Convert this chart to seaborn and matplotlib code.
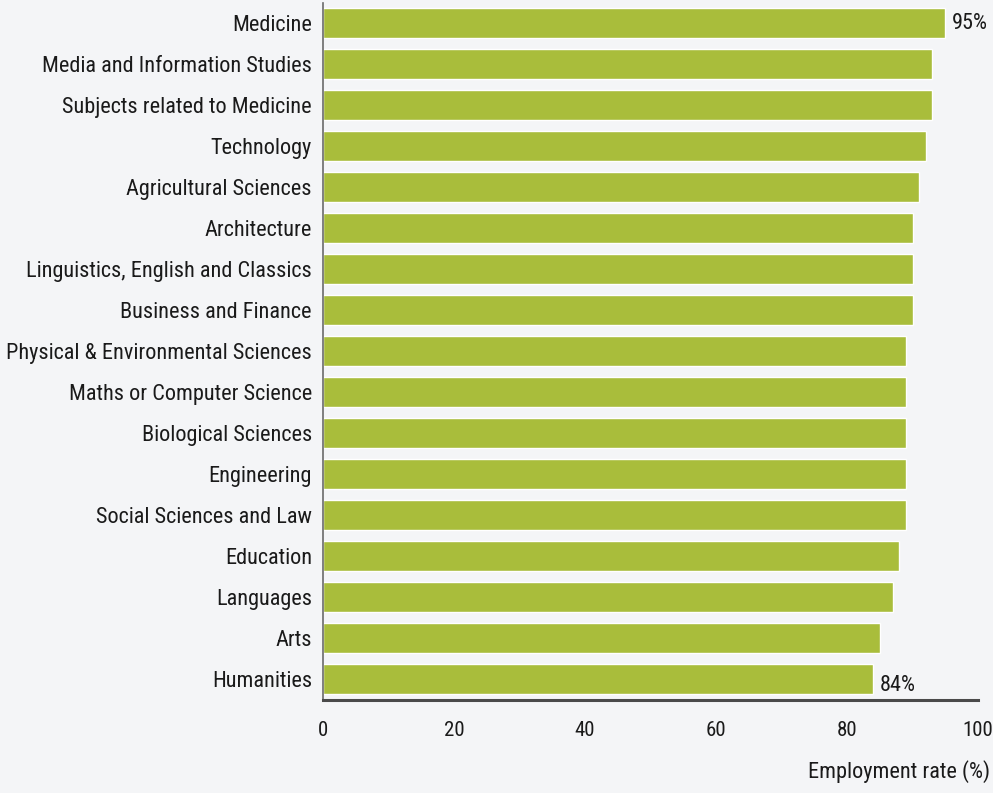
import matplotlib
matplotlib.use("Agg")
import matplotlib.pyplot as plt
import seaborn as sns
import pandas as pd

subjects = [
    "Medicine",
    "Media and Information Studies",
    "Subjects related to Medicine",
    "Technology",
    "Agricultural Sciences",
    "Architecture",
    "Linguistics, English and Classics",
    "Business and Finance",
    "Physical & Environmental Sciences",
    "Maths or Computer Science",
    "Biological Sciences",
    "Engineering",
    "Social Sciences and Law",
    "Education",
    "Languages",
    "Arts",
    "Humanities",
]
employment_rate = [95, 93, 93, 92, 91, 90, 90, 90, 89, 89, 89, 89, 89, 88, 87, 85, 84]
x_ticks = [0, 20, 40, 60, 80, 100]
value_labels = {"Medicine": "95%", "Humanities": "84%"}

sns.set_theme(style="white")
plt.rcParams["font.family"] = ["Roboto Condensed", "PT Sans Narrow", "Asap Condensed", "DejaVu Sans"]

bg = "#f4f5f7"
bar_color = "#a9bd3b"
text_color = "#1a1a1a"

df = pd.DataFrame({"subject": subjects, "rate": employment_rate})

fig = plt.figure(figsize=(9.93, 7.93), dpi=100, facecolor=bg)
ax = fig.add_axes([0.3253, 0.1173, 0.6596, 0.8789])
ax.set_facecolor(bg)

sns.barplot(data=df, x="rate", y="subject", color=bar_color, width=0.73,
            saturation=1, ax=ax, order=subjects)

ax.set_xlim(0, 100)
ax.set_ylim(16.51, -0.49)
ax.set_xticks(x_ticks)
ax.set_xticklabels([str(t) for t in x_ticks], fontsize=15, color=text_color)
ax.tick_params(axis="y", length=0, pad=8, labelsize=16, labelcolor=text_color)
ax.tick_params(axis="x", length=0, pad=15)
ax.set_ylabel("")
ax.set_xlabel("")

for side in ["top", "right"]:
    ax.spines[side].set_visible(False)
ax.spines["left"].set_color("#6a6a6a")
ax.spines["left"].set_linewidth(1.2)
ax.spines["bottom"].set_color("#4a4a4a")
ax.spines["bottom"].set_linewidth(2.2)

for i, (s, r) in enumerate(zip(subjects, employment_rate)):
    if s in value_labels:
        dy = 0.15 if s == "Humanities" else 0.0
        ax.text(r + 1.0, i + dy, value_labels[s], va="center", ha="left",
                fontsize=16, color=text_color)

fig.text(0.997, 0.012, "Employment rate (%)", ha="right", va="bottom",
         fontsize=16, color=text_color)

fig.savefig("out.png", dpi=100, facecolor=bg)
